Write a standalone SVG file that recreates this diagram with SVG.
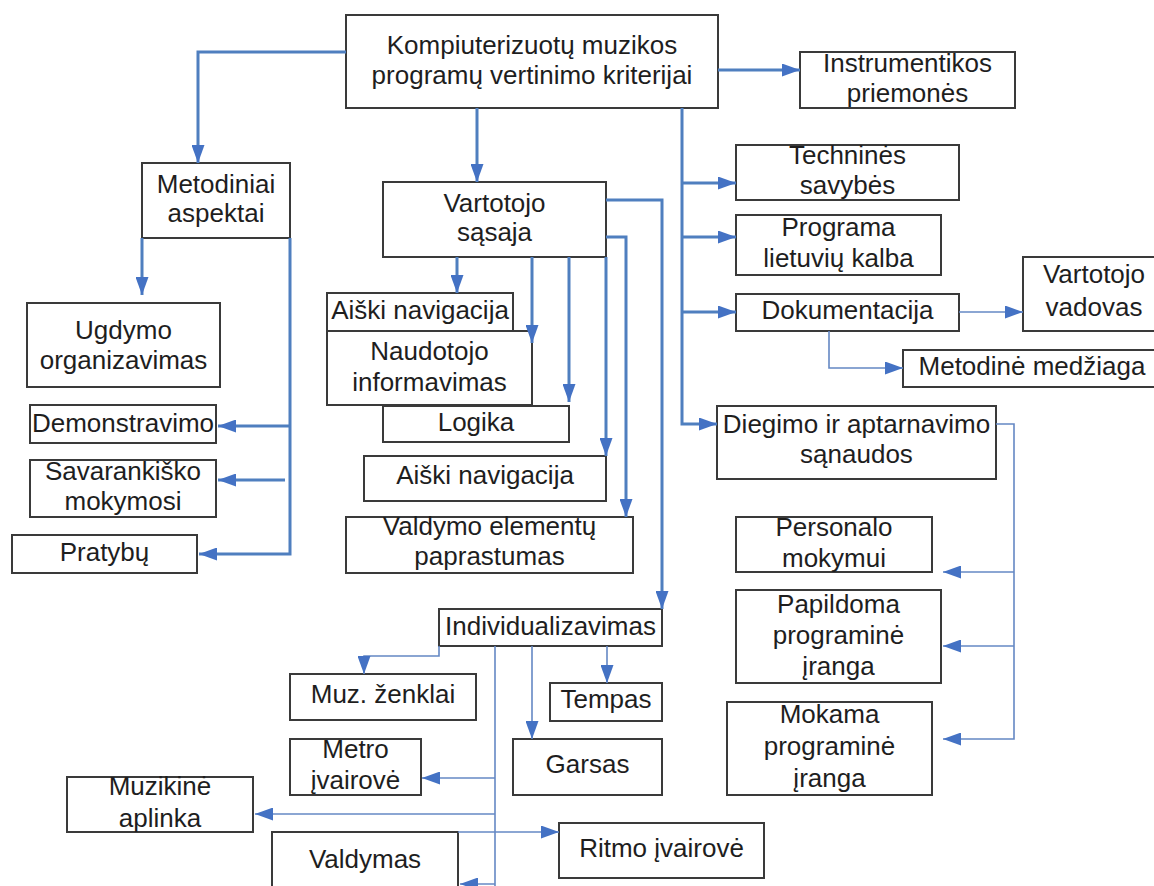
<svg xmlns="http://www.w3.org/2000/svg" width="1154" height="886" viewBox="0 0 1154 886">
  <style>
    .box { fill: #ffffff; stroke: #3a3a3a; stroke-width: 2; }
    .lbl { font-family: "Liberation Sans", Arial, sans-serif; font-size: 26px; fill: #1e1e1e; text-anchor: middle; }
    .thick { fill: none; stroke: #4f7fbf; stroke-width: 3; }
    .thin { fill: none; stroke: #6488c4; stroke-width: 1.6; }
  </style>
  <defs>
    <marker id="arr" markerUnits="userSpaceOnUse" markerWidth="18" markerHeight="13" refX="18" refY="6.5" orient="auto">
      <path d="M0,0 L18,6.5 L0,13 Z" fill="#4472c4"/>
    </marker>
  </defs>
  <rect width="1154" height="886" fill="#ffffff"/>

  <!-- root -->
  <g id="n-main">
    <rect class="box" x="346" y="15" width="372" height="93"/>
    <text class="lbl" x="532" y="54">Kompiuterizuotų muzikos</text>
    <text class="lbl" x="532" y="84">programų vertinimo kriterijai</text>
  </g>
  <g id="n-instrumentikos">
    <rect class="box" x="800" y="52" width="215" height="56"/>
    <text class="lbl" x="907.5" y="72">Instrumentikos</text>
    <text class="lbl" x="907.5" y="102">priemonės</text>
  </g>

  <!-- methodical branch -->
  <g id="n-metodiniai">
    <rect class="box" x="142" y="163" width="148" height="75"/>
    <text class="lbl" x="216" y="193">Metodiniai</text>
    <text class="lbl" x="216" y="222">aspektai</text>
  </g>
  <g id="n-ugdymo">
    <rect class="box" x="27" y="303" width="193" height="84"/>
    <text class="lbl" x="123.5" y="339">Ugdymo</text>
    <text class="lbl" x="123.5" y="369">organizavimas</text>
  </g>
  <g id="n-demonstravimo">
    <rect class="box" x="30" y="405" width="186" height="38"/>
    <text class="lbl" x="123" y="432">Demonstravimo</text>
  </g>
  <g id="n-savarankisko">
    <rect class="box" x="30" y="460" width="186" height="57"/>
    <text class="lbl" x="123" y="480">Savarankiško</text>
    <text class="lbl" x="123" y="510">mokymosi</text>
  </g>
  <g id="n-pratybu">
    <rect class="box" x="12" y="535" width="185" height="38"/>
    <text class="lbl" x="104.5" y="561">Pratybų</text>
  </g>

  <!-- user interface branch -->
  <g id="n-vartotojo-sasaja">
    <rect class="box" x="383" y="182" width="223" height="75"/>
    <text class="lbl" x="494.5" y="212">Vartotojo</text>
    <text class="lbl" x="494.5" y="241">sąsaja</text>
  </g>
  <g id="n-aiski-navigacija-1">
    <rect class="box" x="327" y="293" width="186" height="38"/>
    <text class="lbl" x="420" y="319">Aiški navigacija</text>
  </g>
  <g id="n-naudotojo">
    <rect class="box" x="327" y="331" width="205" height="74"/>
    <text class="lbl" x="429.5" y="360">Naudotojo</text>
    <text class="lbl" x="429.5" y="391">informavimas</text>
  </g>
  <g id="n-logika">
    <rect class="box" x="383" y="406" width="186" height="36"/>
    <text class="lbl" x="476" y="431">Logika</text>
  </g>
  <g id="n-aiski-navigacija-2">
    <rect class="box" x="364" y="456" width="242" height="45"/>
    <text class="lbl" x="485" y="484">Aiški navigacija</text>
  </g>
  <g id="n-valdymo-elementu">
    <rect class="box" x="346" y="517" width="287" height="56"/>
    <text class="lbl" x="489.5" y="535">Valdymo elementų</text>
    <text class="lbl" x="489.5" y="565">paprastumas</text>
  </g>

  <!-- technical branch -->
  <g id="n-technines">
    <rect class="box" x="736" y="145" width="223" height="55"/>
    <text class="lbl" x="847.5" y="164">Techninės</text>
    <text class="lbl" x="847.5" y="194">savybės</text>
  </g>
  <g id="n-programa">
    <rect class="box" x="736" y="215" width="205" height="60"/>
    <text class="lbl" x="838.5" y="236">Programa</text>
    <text class="lbl" x="838.5" y="267">lietuvių kalba</text>
  </g>
  <g id="n-dokumentacija">
    <rect class="box" x="736" y="294" width="223" height="37"/>
    <text class="lbl" x="847.5" y="319">Dokumentacija</text>
  </g>
  <g id="n-vartotojo-vadovas">
    <rect class="box" x="1023" y="257" width="140" height="74"/>
    <text class="lbl" x="1094" y="283">Vartotojo</text>
    <text class="lbl" x="1094" y="316">vadovas</text>
  </g>
  <g id="n-metodine-medziaga">
    <rect class="box" x="903" y="350" width="258" height="37"/>
    <text class="lbl" x="1032" y="375">Metodinė medžiaga</text>
  </g>
  <g id="n-diegimo">
    <rect class="box" x="717" y="406" width="279" height="73"/>
    <text class="lbl" x="856.5" y="433">Diegimo ir aptarnavimo</text>
    <text class="lbl" x="856.5" y="463">sąnaudos</text>
  </g>
  <g id="n-personalo">
    <rect class="box" x="736" y="517" width="196" height="55"/>
    <text class="lbl" x="834" y="536">Personalo</text>
    <text class="lbl" x="834" y="567">mokymui</text>
  </g>
  <g id="n-papildoma">
    <rect class="box" x="736" y="590" width="205" height="93"/>
    <text class="lbl" x="838.5" y="613">Papildoma</text>
    <text class="lbl" x="838.5" y="644">programinė</text>
    <text class="lbl" x="838.5" y="675">įranga</text>
  </g>
  <g id="n-mokama">
    <rect class="box" x="727" y="702" width="205" height="93"/>
    <text class="lbl" x="829.5" y="723">Mokama</text>
    <text class="lbl" x="829.5" y="755">programinė</text>
    <text class="lbl" x="829.5" y="787">įranga</text>
  </g>

  <!-- individualisation branch -->
  <g id="n-individualizavimas">
    <rect class="box" x="439" y="609" width="223" height="37"/>
    <text class="lbl" x="550.5" y="635">Individualizavimas</text>
  </g>
  <g id="n-muz-zenklai">
    <rect class="box" x="290" y="674" width="186" height="46"/>
    <text class="lbl" x="383" y="703">Muz. ženklai</text>
  </g>
  <g id="n-tempas">
    <rect class="box" x="550" y="683" width="112" height="38"/>
    <text class="lbl" x="606" y="708">Tempas</text>
  </g>
  <g id="n-metro">
    <rect class="box" x="290" y="739" width="131" height="56"/>
    <text class="lbl" x="355.5" y="758">Metro</text>
    <text class="lbl" x="355.5" y="789">įvairovė</text>
  </g>
  <g id="n-garsas">
    <rect class="box" x="513" y="739" width="149" height="56"/>
    <text class="lbl" x="587.5" y="773">Garsas</text>
  </g>
  <g id="n-muzikine-aplinka">
    <rect class="box" x="67" y="777" width="186" height="55"/>
    <text class="lbl" x="160" y="795">Muzikinė</text>
    <text class="lbl" x="160" y="827">aplinka</text>
  </g>
  <g id="n-ritmo">
    <rect class="box" x="559" y="823" width="205" height="55"/>
    <text class="lbl" x="661.5" y="857">Ritmo įvairovė</text>
  </g>
  <g id="n-valdymas">
    <rect class="box" x="272" y="832" width="186" height="60"/>
    <text class="lbl" x="365" y="868">Valdymas</text>
  </g>

  <g id="connectors">
    <!-- from the root -->
    <path class="thick" d="M346,52 H198 V163" marker-end="url(#arr)"/>
    <path class="thick" d="M477,108 V182" marker-end="url(#arr)"/>
    <path class="thick" d="M718,70 H800" marker-end="url(#arr)"/>
    <path class="thick" d="M682,108 V424 H717" marker-end="url(#arr)"/>
    <path class="thick" d="M682,183 H736" marker-end="url(#arr)"/>
    <path class="thick" d="M682,237 H736" marker-end="url(#arr)"/>
    <path class="thick" d="M682,312 H736" marker-end="url(#arr)"/>

    <!-- methodical aspects -->
    <path class="thick" d="M142,238 V295" marker-end="url(#arr)"/>
    <path class="thick" d="M290,238 V554 H199" marker-end="url(#arr)"/>
    <path class="thick" d="M290,426 H218" marker-end="url(#arr)"/>
    <path class="thick" d="M285,480 H218" marker-end="url(#arr)"/>

    <!-- user interface -->
    <path class="thick" d="M457,257 V293" marker-end="url(#arr)"/>
    <path class="thick" d="M532,257 V343" marker-end="url(#arr)"/>
    <path class="thick" d="M569,257 V402" marker-end="url(#arr)"/>
    <path class="thick" d="M606,257 V456" marker-end="url(#arr)"/>
    <path class="thick" d="M606,237 H626 V517" marker-end="url(#arr)"/>
    <path class="thick" d="M606,200 H662 V609" marker-end="url(#arr)"/>

    <!-- documentation -->
    <path class="thin" d="M959,312 H1023" marker-end="url(#arr)"/>
    <path class="thin" d="M829,331 V368 H903" marker-end="url(#arr)"/>

    <!-- installation costs -->
    <path class="thin" d="M996,424 H1014 V739 H943" marker-end="url(#arr)"/>
    <path class="thin" d="M1014,572 H943" marker-end="url(#arr)"/>
    <path class="thin" d="M1014,646 H943" marker-end="url(#arr)"/>

    <!-- individualisation -->
    <path class="thin" d="M439,646 V656 H364 V674" marker-end="url(#arr)"/>
    <path class="thin" d="M495,646 V886"/>
    <path class="thin" d="M532,646 V739" marker-end="url(#arr)"/>
    <path class="thin" d="M607,646 V683" marker-end="url(#arr)"/>
    <path class="thin" d="M495,778 H422" marker-end="url(#arr)"/>
    <path class="thin" d="M495,814 H255" marker-end="url(#arr)"/>
    <path class="thin" d="M458,832 H559" marker-end="url(#arr)"/>
    <path class="thin" d="M495,884 H460" marker-end="url(#arr)"/>
  </g>
</svg>
